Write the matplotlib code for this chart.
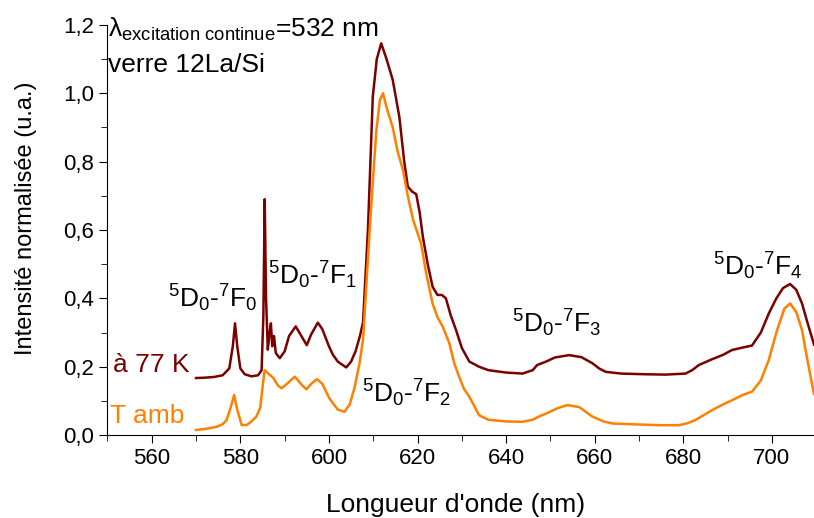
import matplotlib
matplotlib.use('Agg')
import matplotlib.pyplot as plt
from matplotlib.ticker import MultipleLocator, FuncFormatter

plt.rcParams['font.family'] = ['Liberation Sans', 'DejaVu Sans']
plt.rcParams['mathtext.fontset'] = 'custom'
plt.rcParams['mathtext.rm'] = 'Liberation Sans'
plt.rcParams['mathtext.it'] = 'Liberation Sans:italic'

# spectre à 77 K (décalé)
wl_77k = [570, 572, 574, 576, 577.5, 578.3, 578.8, 579.3, 580, 581, 582.5, 584, 584.8,
          585.2, 585.5, 585.8, 586.2, 586.6, 586.9, 587.2, 587.6, 588.0, 588.9, 590, 591,
          592.5, 594, 595, 596, 597.5, 598.5, 600, 600.9, 602, 603.9, 605, 606, 607, 607.7,
          608.8, 609.9, 610.8, 611.8, 613, 614.4, 615.9, 617, 617.8, 618.8, 619.7, 620.5,
          621.2, 622.3, 623.4, 624.5, 625.5, 626.4, 627.5, 628.7, 630, 631.7, 633.9, 636,
          640, 643.7, 646, 647, 649, 651, 654.2, 657, 659.5, 661, 662.5, 666, 671.5, 676,
          680.5, 682, 683.5, 686.5, 689, 691, 693, 695.5, 697.5, 699.3, 701, 702.5, 704.1,
          705.5, 706.8, 708, 709.5]
int_77k = [0.167, 0.168, 0.170, 0.175, 0.195, 0.26, 0.327, 0.26, 0.195, 0.178, 0.172, 0.175, 0.19,
           0.35, 0.69, 0.40, 0.25, 0.30, 0.327, 0.26, 0.29, 0.24, 0.225, 0.245, 0.29,
           0.318, 0.285, 0.263, 0.295, 0.329, 0.31, 0.26, 0.235, 0.215, 0.198, 0.215, 0.245, 0.29, 0.33,
           0.6, 0.99, 1.10, 1.146, 1.10, 1.039, 0.93, 0.80, 0.727, 0.712, 0.705, 0.65,
           0.58, 0.50, 0.434, 0.41, 0.41, 0.40, 0.35, 0.307, 0.255, 0.215, 0.2, 0.19,
           0.183, 0.18, 0.19, 0.205, 0.215, 0.227, 0.234, 0.228, 0.21, 0.195, 0.185, 0.18, 0.178, 0.177,
           0.18, 0.19, 0.205, 0.222, 0.235, 0.249, 0.255, 0.262, 0.30, 0.356, 0.40, 0.43, 0.442,
           0.425, 0.385, 0.33, 0.265]

# spectre à température ambiante
wl_amb = [570, 572, 574.6, 576.0, 576.9, 577.8, 578.6, 579.3, 580.3, 581.5, 582.5, 583.6, 584.5,
          585.1, 585.5, 586.3, 587.4, 588.5, 589.3, 590.5, 592.3, 594, 594.9, 596, 597.3, 598.5,
          600, 600.9, 602, 603.5, 604.7, 605.8, 606.9, 607.7, 608.5, 609.2, 610, 610.7, 611.5,
          612.2, 613.2, 614.4, 615.5, 616.7, 617.8, 619, 620.8, 622, 623.4, 624.5, 625.7, 627.2,
          628.3, 629.4, 630.5, 631.7, 633.9, 636, 640, 643.7, 646, 647.5, 649, 651.5, 653.8,
          656.5, 659.5, 662, 664, 670, 675, 679, 681, 682.7, 686.5, 689, 691, 693.5, 695.5,
          697.5, 699.3, 701, 702.8, 704.1, 705.5, 706.8, 708, 709.5]
int_amb = [0.015, 0.018, 0.024, 0.032, 0.044, 0.08, 0.117, 0.075, 0.029, 0.03, 0.04, 0.054, 0.08,
           0.15, 0.19, 0.18, 0.168, 0.145, 0.137, 0.15, 0.171, 0.145, 0.134, 0.15, 0.164, 0.15,
           0.11, 0.093, 0.075, 0.068, 0.09, 0.14, 0.21, 0.28, 0.45, 0.6, 0.76, 0.89, 0.98,
           1.0, 0.95, 0.90, 0.83, 0.776, 0.70, 0.63, 0.56, 0.47, 0.385, 0.345, 0.317, 0.268,
           0.21, 0.17, 0.135, 0.112, 0.058, 0.045, 0.04, 0.039, 0.045, 0.055, 0.063, 0.078, 0.088,
           0.082, 0.054, 0.04, 0.034, 0.031, 0.029, 0.029, 0.035, 0.044, 0.073, 0.09, 0.102, 0.118, 0.127,
           0.16, 0.22, 0.30, 0.37, 0.385, 0.36, 0.307, 0.22, 0.12]

transitions = [r'$^5$D$_0$-$^7$F$_0$', r'$^5$D$_0$-$^7$F$_1$', r'$^5$D$_0$-$^7$F$_2$',
               r'$^5$D$_0$-$^7$F$_3$', r'$^5$D$_0$-$^7$F$_4$']
trans_x = [563.7, 586.2, 607.4, 641.4, 686.6]
trans_y = [0.375, 0.442, 0.097, 0.301, 0.468]

c_77k = '#7b0000'
c_amb = '#ff8000'

fig = plt.figure(figsize=(8.14, 5.18), dpi=100)
ax = fig.add_axes([0.132, 0.160, 0.868, 0.792])

ax.plot(wl_77k, int_77k, color=c_77k, lw=1.8)
ax.plot(wl_amb, int_amb, color=c_amb, lw=1.8)

ax.set_xlim(550, 709.5)
ax.set_ylim(0, 1.2)
ax.spines['top'].set_visible(False)
ax.spines['right'].set_visible(False)
ax.xaxis.set_major_locator(MultipleLocator(20))
ax.xaxis.set_minor_locator(MultipleLocator(10))
ax.yaxis.set_major_locator(MultipleLocator(0.2))
ax.yaxis.set_minor_locator(MultipleLocator(0.1))
ax.yaxis.set_major_formatter(FuncFormatter(lambda v, p: f'{v:.1f}'.replace('.', ',')))
ax.tick_params(which='major', direction='out', length=6, labelsize=16)
ax.tick_params(which='minor', direction='out', length=4)
ax.set_xlabel("Longueur d'onde (nm)", fontsize=19)
ax.set_ylabel('Intensité normalisée (u.a.)', fontsize=17)
ax.xaxis.set_label_coords(0.492, -0.141)
ax.yaxis.set_label_coords(-0.100, 0.529)

for t, x, y in zip(transitions, trans_x, trans_y):
    ax.text(x, y, t, fontsize=19, ha='left', va='baseline')

ax.text(550.2, 1.165, r'$\mathrm{\lambda}_{\mathrm{excitation\ continue}}$=532 nm', fontsize=19,
        ha='left', va='baseline')
ax.text(550.2, 1.063, 'verre 12La/Si', fontsize=19, ha='left', va='baseline')
ax.text(551.3, 0.185, 'à 77 K', fontsize=19, color=c_77k, ha='left', va='baseline')
ax.text(550.6, 0.036, 'T amb', fontsize=19, color=c_amb, ha='left', va='baseline')

fig.savefig('out.png', dpi=100)
